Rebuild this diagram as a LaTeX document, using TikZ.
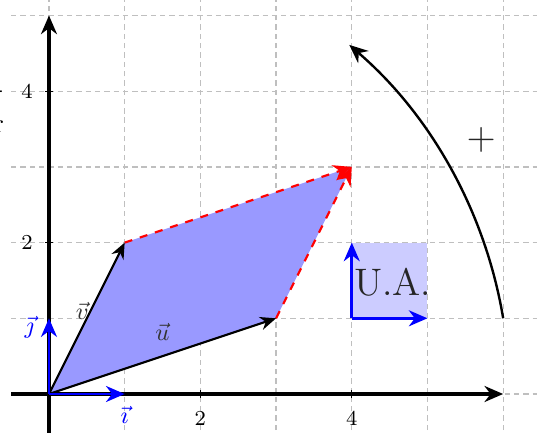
\documentclass[tikz,border=0pt]{standalone}
\usetikzlibrary{arrows.meta}
\begin{document}
\begin{tikzpicture}[x=1cm,y=1cm,
  gridline/.style={black!25, dash pattern=on 2pt off 1.5pt, line width=0.45pt},
  axis/.style={line width=1.2pt, -{Stealth[length=7pt,width=6pt]}},
  basevec/.style={blue, line width=1.1pt, -{Stealth[length=7pt,width=6pt]}},
  vecarrow/.style={black, line width=0.8pt, -{Stealth[length=6pt,width=5pt]}},
  sumarrow/.style={red, dashed, line width=0.8pt, -{Stealth[length=7pt,width=6pt]}},
  ticklab/.style={font=\footnotesize},
  veclab/.style={font=\small}]
\useasboundingbox (-0.647,-0.515) rectangle (6.447,5.205);
% grid
\draw[gridline] (-0.5,-0.6) grid (6.6,5.3);
% fragments at left edge
\node[anchor=east, inner sep=0pt] (frag1) at (-0.595,3.96) {-};
\node[anchor=east, inner sep=0pt] (frag2) at (-0.59,3.53) {r};
% parallelogram
\coordinate (O) at (0,0);
\coordinate (U) at (3,1);
\coordinate (V) at (1,2);
\coordinate (W) at (4,3);
\fill[blue!40] (O) -- (U) -- (W) -- (V) -- cycle;
% unit area square
\fill[blue!20] (4,1) rectangle (5,2);
% axes
\coordinate (xs) at (-0.5,0);
\coordinate (xe) at (6,0);
\coordinate (ys) at (0,-0.6);
\coordinate (ye) at (0,5);
\draw[axis] (xs) -- (xe);
\draw[axis] (ys) -- (ye);
% ticks
\foreach \t in {2,4}{
  \draw[line width=0.5pt] (\t,0.05) -- (\t,-0.05);
  \node[ticklab] (xl\t) at (\t,-0.32) {\t};
  \draw[line width=0.5pt] (0.05,\t) -- (-0.05,\t);
  \node[ticklab] (yl\t) at (-0.29,\t) {\t};
}
% sum arrows
\draw[sumarrow] (V) -- (W);
\draw[sumarrow] (U) -- (W);
% u, v
\draw[vecarrow] (O) -- (U);
\draw[vecarrow] (O) -- (V);
\node[veclab, text=black!80] (ul) at (1.5,0.82) {$\vec{u}$};
\node[veclab, text=black!80] (vl) at (0.44,1.1) {$\vec{v}$};
% base vectors
\coordinate (I) at (1,0);
\coordinate (J) at (0,1);
\draw[basevec] (O) -- (I);
\draw[basevec] (O) -- (J);
\node[veclab, text=blue] (il) at (1,-0.28) {$\vec{\imath}$};
\node[veclab, text=blue] (jl) at (-0.26,0.88) {$\vec{\jmath}$};
% U.A. square arrows
\coordinate (A) at (4,1);
\coordinate (A1) at (5,1);
\coordinate (A2) at (4,2);
\draw[basevec] (A) -- (A1);
\draw[basevec] (A) -- (A2);
\node[font=\Large, text=black!85] (ua) at (4.54,1.47) {U.A.};
% orientation arc
\coordinate (arcs) at (6,1);
\draw[line width=0.9pt, -{Stealth[length=7pt,width=6pt]}] (arcs) arc[start angle=9.46, end angle=49.3, radius=6.083];
\node[font=\Large, text=black!85] (plus) at (5.71,3.36) {$+$};
\end{tikzpicture}
\end{document}
